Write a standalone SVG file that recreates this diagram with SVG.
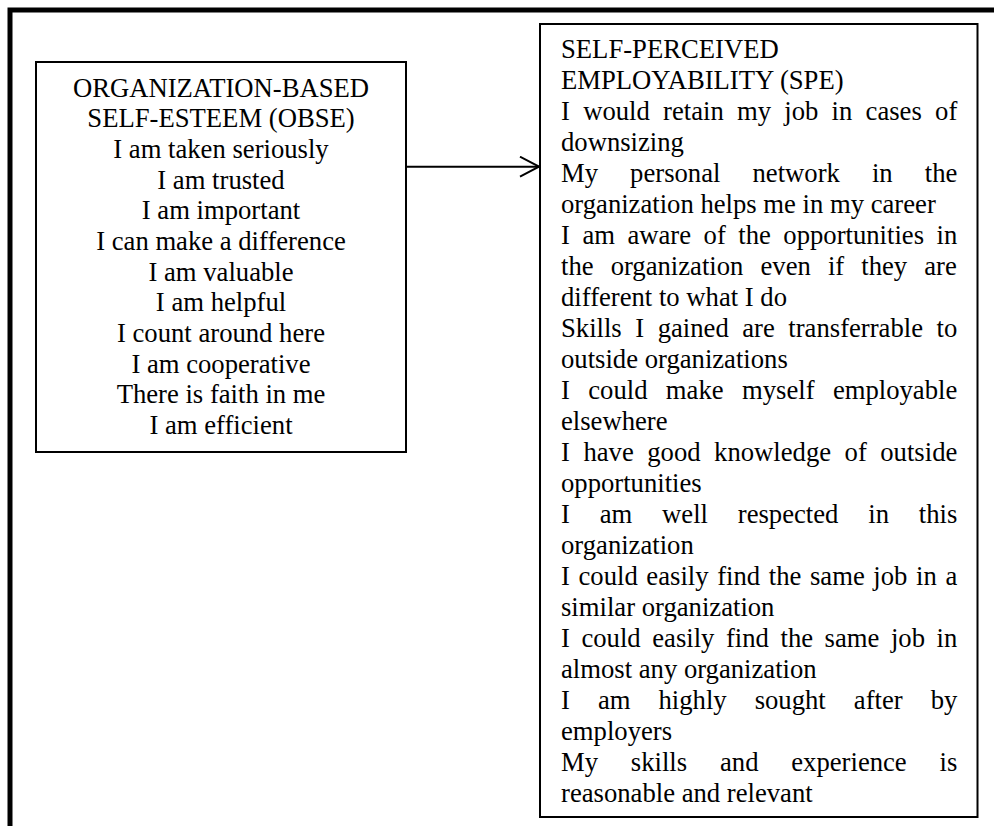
<svg xmlns="http://www.w3.org/2000/svg" width="994" height="826" viewBox="0 0 994 826">
  <style>
    .frame { fill: none; stroke: #000; stroke-width: 5; }
    .box { fill: #fff; stroke: #000; stroke-width: 2; }
    .t { font-family: "Liberation Serif", "Times New Roman", serif; font-size: 26.67px; fill: #000; }
    .c { text-anchor: middle; }
    .link { fill: none; stroke: #000; stroke-width: 2; }
  </style>
  <defs>
    <marker id="open-arrow" markerUnits="userSpaceOnUse" viewBox="0 0 22 22" refX="20" refY="11" markerWidth="22" markerHeight="22" orient="auto">
      <polyline points="1,1 20,11 1,21" fill="none" stroke="#000" stroke-width="2"/>
    </marker>
  </defs>

  <rect width="994" height="826" fill="#fff"/>

  <!-- outer figure frame, open to the right and bottom -->
  <rect class="frame" x="10" y="10" width="1000" height="1000"/>

  <g id="obse">
    <rect class="box" x="36" y="62" width="370" height="390"/>
    <text class="t c" x="221" y="96.7">ORGANIZATION-BASED</text>
    <text class="t c" x="221" y="127.4">SELF-ESTEEM (OBSE)</text>
    <text class="t c" x="221" y="158">I am taken seriously</text>
    <text class="t c" x="221" y="188.7">I am trusted</text>
    <text class="t c" x="221" y="219.4">I am important</text>
    <text class="t c" x="221" y="250">I can make a difference</text>
    <text class="t c" x="221" y="280.7">I am valuable</text>
    <text class="t c" x="221" y="311.4">I am helpful</text>
    <text class="t c" x="221" y="342">I count around here</text>
    <text class="t c" x="221" y="372.7">I am cooperative</text>
    <text class="t c" x="221" y="403.4">There is faith in me</text>
    <text class="t c" x="221" y="434">I am efficient</text>
  </g>

  <g id="spe">
    <rect class="box" x="540" y="24" width="437.5" height="793"/>
    <text class="t" x="561" y="58.3">SELF-PERCEIVED</text>
    <text class="t" x="561" y="89.3">EMPLOYABILITY (SPE)</text>
    <text class="t" x="561" y="120.3" style="word-spacing:6.59px">I would retain my job in cases of</text>
    <text class="t" x="561" y="151.3">downsizing</text>
    <text class="t" x="561" y="182.3" style="word-spacing:25.42px">My personal network in the</text>
    <text class="t" x="561" y="213.3">organization helps me in my career</text>
    <text class="t" x="561" y="244.3" style="word-spacing:5.84px">I am aware of the opportunities in</text>
    <text class="t" x="561" y="275.3" style="word-spacing:10.42px">the organization even if they are</text>
    <text class="t" x="561" y="306.3">different to what I do</text>
    <text class="t" x="561" y="337.3" style="word-spacing:6.86px">Skills I gained are transferrable to</text>
    <text class="t" x="561" y="368.3">outside organizations</text>
    <text class="t" x="561" y="399.3" style="word-spacing:11.72px">I could make myself employable</text>
    <text class="t" x="561" y="430.3">elsewhere</text>
    <text class="t" x="561" y="461.3" style="word-spacing:6.86px">I have good knowledge of outside</text>
    <text class="t" x="561" y="492.3">opportunities</text>
    <text class="t" x="561" y="523.3" style="word-spacing:23.15px">I am well respected in this</text>
    <text class="t" x="561" y="554.3">organization</text>
    <text class="t" x="561" y="585.3" style="word-spacing:1.97px">I could easily find the same job in a</text>
    <text class="t" x="561" y="616.3">similar organization</text>
    <text class="t" x="561" y="647.3" style="word-spacing:4.9px">I could easily find the same job in</text>
    <text class="t" x="561" y="678.3">almost any organization</text>
    <text class="t" x="561" y="709.3" style="word-spacing:21.37px">I am highly sought after by</text>
    <text class="t" x="561" y="740.3">employers</text>
    <text class="t" x="561" y="771.3" style="word-spacing:26.16px">My skills and experience is</text>
    <text class="t" x="561" y="802.3">reasonable and relevant</text>
  </g>

  <g id="connectors">
    <line class="link" x1="406" y1="166.7" x2="539" y2="166.7" marker-end="url(#open-arrow)"/>
  </g>
</svg>
